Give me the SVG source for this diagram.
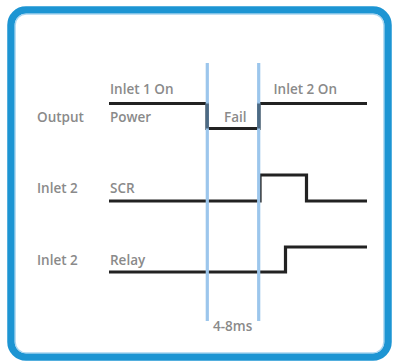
<svg xmlns="http://www.w3.org/2000/svg" width="393" height="361" viewBox="0 0 393 361">
<style>
text{font-family:"Open Sans","Liberation Sans",sans-serif;font-weight:600;font-size:13.5px;fill:#8a8a8a}
.sig{fill:none;stroke:#222;stroke-width:3.2}
.mark{stroke:#9cc6ec;stroke-width:3.2}
.ov{stroke:#4c6a84;stroke-width:3.2}
</style>
<rect width="393" height="361" fill="#fff"/>
<g id="frame">
<rect x="11" y="10" width="377" height="347" rx="15" ry="15" fill="none" stroke="#1d95d3" stroke-width="7.5"/>
<rect x="15.2" y="14.2" width="368.6" height="338.6" rx="11" ry="11" fill="none" stroke="#a9d5f0" stroke-width="1.2"/>
</g>
<g id="connectors">
<path id="output-signal" class="sig" d="M109,103.5 H207 V128.5 H259 V103.5 H367"/>
<path id="scr-signal" class="sig" d="M109,201 H260 V175 H306.5 V201 H367"/>
<path id="relay-signal" class="sig" d="M109,272 H285.5 V247 H367"/>
</g>
<g id="markers">
<line class="mark" x1="207.3" y1="63" x2="207.3" y2="321"/>
<line class="mark" x1="258.7" y1="63" x2="258.7" y2="321"/>
<line class="ov" x1="207.3" y1="103.5" x2="207.3" y2="128.5"/>
<line class="ov" x1="258.7" y1="103.5" x2="258.7" y2="128.5"/>
</g>
<g id="labels">
<text x="37" y="121.5">Output</text>
<text x="110" y="93.5">Inlet 1 On</text>
<text x="110" y="121.5">Power</text>
<text x="224" y="121.5">Fail</text>
<text x="273.5" y="93.5">Inlet 2 On</text>
<text x="37" y="193">Inlet 2</text>
<text x="110" y="193">SCR</text>
<text x="37" y="264.5">Inlet 2</text>
<text x="110" y="264.5">Relay</text>
<text x="213" y="331">4-8ms</text>
</g>
</svg>
